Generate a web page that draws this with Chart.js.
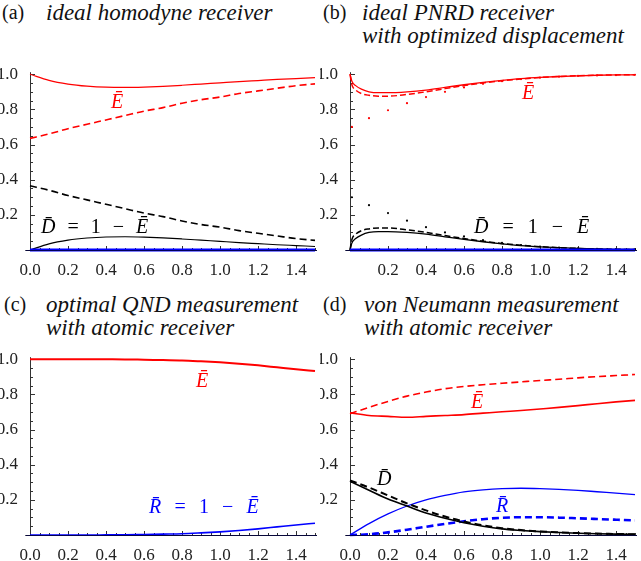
<!DOCTYPE html>
<html><head><meta charset="utf-8">
<script>
if (document.fonts && document.fonts.load) {
  document.fonts.load("17px 'Liberation Serif'");
  document.fonts.load("20px 'Liberation Serif'");
  document.fonts.load("italic 23px 'Liberation Serif'");
}
</script>
<script src="https://cdn.jsdelivr.net/npm/chart.js@4"></script>
<style>
html,body{margin:0;padding:0;background:#fff}
#wrap{position:relative;width:641px;height:561px;overflow:hidden;font-family:'Liberation Serif',serif;background:#fff}
canvas{position:absolute}
.lab{position:absolute;font-family:'Liberation Serif',serif;font-size:20px;line-height:23px;color:#111;white-space:nowrap}
.ttl{position:absolute;font-family:'Liberation Serif',serif;font-size:23px;line-height:23px;font-style:italic;color:#111;white-space:nowrap}
.ann{position:absolute;font-family:'Liberation Serif',serif;font-size:20px;line-height:18px;white-space:nowrap}
.ann i{font-style:italic}
.op{margin:0 0.6em}
.op2{margin:0 0.7em}
.op3{margin:0 0.66em}
</style></head><body><div id="wrap">
<div class="lab" style="left:2px;top:1px">(a)</div>
<div class="ttl" style="left:46px;top:1px">ideal homodyne receiver</div>
<div class="lab" style="left:323px;top:1px">(b)</div>
<div class="ttl" style="left:362px;top:1px">ideal PNRD receiver<br>with optimized displacement</div>
<div class="lab" style="left:4px;top:293px">(c)</div>
<div class="ttl" style="left:46px;top:293px">optimal QND measurement<br>with atomic receiver</div>
<div class="lab" style="left:323px;top:293px">(d)</div>
<div class="ttl" style="left:364px;top:293px">von Neumann measurement<br>with atomic receiver</div>

<canvas id="ca" width="320" height="215" style="left:0;top:60px"></canvas>
<canvas id="cb" width="320" height="215" style="left:320px;top:60px"></canvas>
<canvas id="cc" width="320" height="215" style="left:0;top:345px"></canvas>
<canvas id="cd" width="320" height="215" style="left:320px;top:345px"></canvas>

<div class="ann" style="left:111px;top:92px;color:#f00"><i>Ē</i></div>
<div class="ann" style="left:41px;top:217px;color:#000"><i>D̄</i><span class="op">=</span>1<span class="op">−</span><i>Ē</i></div>
<div class="ann" style="left:522px;top:83px;color:#f00"><i>Ē</i></div>
<div class="ann" style="left:474px;top:217px;color:#000"><i>D̄</i><span class="op2">=</span>1<span class="op2">−</span><i>Ē</i></div>
<div class="ann" style="left:196px;top:371px;color:#f00"><i>Ē</i></div>
<div class="ann" style="left:149px;top:497px;color:#00f"><i>R̄</i><span class="op3">=</span>1<span class="op3">−</span><i>Ē</i></div>
<div class="ann" style="left:471px;top:392px;color:#f00"><i>Ē</i></div>
<div class="ann" style="left:377px;top:469px;color:#000"><i>D̄</i></div>
<div class="ann" style="left:496px;top:496px;color:#00f"><i>R̄</i></div>
</div>
<script>
// ---------- data ----------
const xTicks = [0.0, 0.2, 0.4, 0.6, 0.8, 1.0, 1.2, 1.4];
const yTicks = [0.2, 0.4, 0.6, 0.8, 1.0];

// panel (a) ideal homodyne receiver
const xA = [0,0.1,0.2,0.3,0.4,0.5,0.6,0.7,0.8,0.9,1.0,1.1,1.2,1.3,1.4,1.5];
const aE_solid  = [1.0,0.965,0.944,0.932,0.926,0.925,0.927,0.931,0.937,0.944,0.951,0.958,0.964,0.970,0.975,0.980];
const aE_dashed = [0.635,0.66,0.69,0.715,0.74,0.765,0.79,0.81,0.835,0.855,0.87,0.89,0.905,0.92,0.935,0.945];
const aD_solid  = [0,0.035,0.056,0.068,0.074,0.075,0.073,0.069,0.063,0.056,0.049,0.042,0.036,0.030,0.025,0.020];
const aD_dashed = [0.365,0.34,0.31,0.285,0.26,0.235,0.21,0.19,0.165,0.145,0.13,0.11,0.095,0.08,0.065,0.055];
const aR        = [0,0,0,0,0,0,0,0,0,0,0,0,0,0,0,0];

// panel (b) ideal PNRD receiver with optimized displacement
const xB = [0,0.01,0.03,0.06,0.1,0.15,0.2,0.3,0.4,0.5,0.6,0.7,0.8,0.9,1.0,1.1,1.2,1.3,1.4,1.5];
const bE_solid  = [1.0,0.96,0.935,0.915,0.9,0.895,0.895,0.9,0.91,0.925,0.94,0.953,0.965,0.975,0.982,0.987,0.991,0.994,0.996,0.997];
const bE_dashed = [1.0,0.94,0.91,0.89,0.88,0.875,0.875,0.885,0.9,0.918,0.935,0.95,0.963,0.973,0.981,0.987,0.991,0.994,0.996,0.997];
const bD_solid  = [0,0.04,0.065,0.085,0.1,0.105,0.105,0.1,0.09,0.075,0.06,0.047,0.035,0.025,0.018,0.013,0.009,0.006,0.004,0.003];
const bD_dashed = [0,0.06,0.09,0.11,0.12,0.125,0.125,0.115,0.1,0.082,0.065,0.05,0.037,0.027,0.019,0.013,0.009,0.006,0.004,0.003];
const xBdot = [0.01,0.1,0.2,0.3,0.4,0.5,0.6,0.7,0.8,0.9,1.0,1.1,1.2,1.3,1.4,1.5];
const bE_dotted = [0.70,0.75,0.795,0.835,0.87,0.90,0.925,0.945,0.96,0.972,0.98,0.986,0.99,0.993,0.995,0.997];
const bD_dotted = [0.30,0.255,0.21,0.167,0.13,0.10,0.077,0.056,0.04,0.028,0.02,0.014,0.01,0.007,0.005,0.003];
const bR        = [0,0,0,0,0,0,0,0,0,0,0,0,0,0,0,0,0,0,0,0];

// panel (c) optimal QND measurement with atomic receiver
const xC = [0,0.1,0.2,0.3,0.4,0.5,0.6,0.7,0.8,0.9,1.0,1.1,1.2,1.3,1.4,1.5];
const cE = [1.0,1.0,1.0,1.0,0.9995,0.999,0.997,0.995,0.993,0.988,0.982,0.974,0.965,0.954,0.943,0.933];
const cR = [0,0,0,0,0.0005,0.001,0.003,0.005,0.007,0.012,0.018,0.026,0.035,0.046,0.057,0.067];

// panel (d) von Neumann measurement with atomic receiver
const xD = [0,0.1,0.2,0.3,0.4,0.5,0.6,0.7,0.8,0.9,1.0,1.1,1.2,1.3,1.4,1.5];
const dE_solid  = [0.695,0.68,0.675,0.67,0.675,0.68,0.685,0.693,0.701,0.708,0.717,0.726,0.736,0.747,0.757,0.766];
const dE_dashed = [0.69,0.726,0.76,0.79,0.813,0.832,0.845,0.855,0.863,0.871,0.879,0.886,0.894,0.901,0.907,0.913];
const dD_solid  = [0.305,0.255,0.205,0.165,0.125,0.095,0.07,0.05,0.035,0.026,0.019,0.014,0.01,0.007,0.005,0.004];
const dD_dashed = [0.31,0.27,0.225,0.18,0.14,0.105,0.077,0.055,0.039,0.028,0.02,0.015,0.011,0.008,0.006,0.004];
const dR_solid  = [0,0.065,0.12,0.165,0.2,0.225,0.245,0.257,0.264,0.266,0.264,0.26,0.254,0.246,0.238,0.23];
const dR_dashed = [0,0.004,0.015,0.03,0.047,0.063,0.078,0.09,0.098,0.101,0.101,0.099,0.095,0.091,0.087,0.083];

// ---------- helpers ----------
const SERIF = "'Liberation Serif', serif";
const RED = '#ff0000', BLUE = '#0000ff', BLACK = '#000000';
const pts = (xs, ys) => xs.map((x, i) => ({x, y: ys[i]}));
function line(xs, ys, color, width, dash) {
  return {data: pts(xs, ys), borderColor: color, backgroundColor: color, borderWidth: width,
    borderDash: dash || [], pointRadius: 0, fill: false, cubicInterpolationMode: 'monotone',
    clip: 6};
}
function dots(xs, ys, color) {
  return {data: pts(xs, ys), borderColor: color, backgroundColor: color, showLine: false,
    pointRadius: 1.1, pointBorderWidth: 0, clip: 6};
}

function drawXAxisLine(chart, ctx) {
  const {x, y} = chart.scales;
  const y0 = Math.round(y.getPixelForValue(0)) + 0.5;
  const x0 = Math.round(x.getPixelForValue(0)) + 0.5;
  ctx.beginPath();
  ctx.moveTo(x0 - 5, y0); ctx.lineTo(x.getPixelForValue(1.5) + 2, y0);
  ctx.stroke();
}
const inwardAxes = {
  id: 'inwardAxes',
  beforeDatasetsDraw(chart) {
    const {ctx, scales: {x, y}} = chart;
    const y0 = Math.round(y.getPixelForValue(0)) + 0.5;
    const x0 = Math.round(x.getPixelForValue(0)) + 0.5;
    ctx.save();
    ctx.strokeStyle = '#333'; ctx.lineWidth = 1;
    drawXAxisLine(chart, ctx);
    ctx.beginPath();
    ctx.moveTo(x0, y0); ctx.lineTo(x0, y.getPixelForValue(1.0) - 2);
    for (let i = 1; i <= 30; i++) {
      const px = Math.round(x.getPixelForValue(i * 0.05)) + 0.5;
      const len = i % 4 === 0 ? 4.5 : 2.5;
      ctx.moveTo(px, y0); ctx.lineTo(px, y0 - len);
    }
    for (let i = 1; i <= 20; i++) {
      const py = Math.round(y.getPixelForValue(i * 0.05)) + 0.5;
      const len = i % 4 === 0 ? 4.5 : 2.5;
      ctx.moveTo(x0, py); ctx.lineTo(x0 + len, py);
    }
    ctx.stroke(); ctx.restore();
  },
  afterDatasetsDraw(chart) {
    const ctx = chart.ctx;
    ctx.save();
    ctx.strokeStyle = 'rgba(0,0,60,0.85)'; ctx.lineWidth = 1.2;
    drawXAxisLine(chart, ctx);
    ctx.restore();
  }
};

function makeChart(id, datasets, showZeroX) {
  const xt = showZeroX ? xTicks : xTicks.filter(v => v !== 0);
  return new Chart(document.getElementById(id), {
    type: 'line',
    data: {datasets},
    plugins: [inwardAxes],
    options: {
      responsive: false, animation: false, devicePixelRatio: 1,
      layout: {padding: {top: 10, right: 5, left: 0, bottom: 0}},
      plugins: {legend: {display: false}, tooltip: {enabled: false}},
      scales: {
        x: {type: 'linear', min: 0, max: 1.5,
          grid: {display: false}, border: {display: false},
          afterFit: s => { s.height = 25; },
          afterBuildTicks: s => { s.ticks = xt.map(v => ({value: v})); },
          ticks: {padding: 2, color: '#222', maxRotation: 0, autoSkip: false,
            font: {family: SERIF, size: 17},
            callback: v => Number(v).toFixed(1)}},
        y: {type: 'linear', min: 0, max: 1.0,
          grid: {display: false}, border: {display: false},
          afterFit: s => { s.width = 30; },
          afterBuildTicks: s => { s.ticks = yTicks.map(v => ({value: v})); },
          ticks: {padding: 4, color: '#222', autoSkip: false,
            font: {family: SERIF, size: 17},
            callback: v => Number(v).toFixed(1)}}
      }
    }
  });
}

const charts = [];
charts.push(makeChart('ca', [
  line(xA, aR, BLUE, 3),
  line(xA, aE_solid, RED, 1.2),
  line(xA, aE_dashed, RED, 1.6, [7, 4]),
  line(xA, aD_solid, BLACK, 1.1),
  line(xA, aD_dashed, BLACK, 1.6, [7, 4])
], true));

charts.push(makeChart('cb', [
  line(xB, bR, BLUE, 3),
  line(xB, bE_solid, RED, 1.3),
  line(xB, bE_dashed, RED, 1.5, [6, 3]),
  line(xB, bD_solid, BLACK, 1.3),
  line(xB, bD_dashed, BLACK, 1.5, [6, 3]),
  dots(xBdot, bE_dotted, RED),
  dots(xBdot, bD_dotted, BLACK)
], false));

charts.push(makeChart('cc', [
  line(xC, cE, RED, 2),
  line(xC, cR, BLUE, 1.6)
], true));

charts.push(makeChart('cd', [
  line(xD, dE_solid, RED, 1.6),
  line(xD, dE_dashed, RED, 1.6, [7, 4]),
  line(xD, dD_solid, BLACK, 1.6),
  line(xD, dD_dashed, BLACK, 2, [7, 4]),
  line(xD, dR_solid, BLUE, 1.3),
  line(xD, dR_dashed, BLUE, 2.6, [7, 4])
], true));

// redraw once the serif font is available so canvas tick labels use it
if (document.fonts && document.fonts.load) {
  Promise.all([
    document.fonts.load("17px 'Liberation Serif'"),
    document.fonts.ready
  ]).then(() => charts.forEach(c => c.update('none'))).catch(() => {});
}
</script>
</body></html>
